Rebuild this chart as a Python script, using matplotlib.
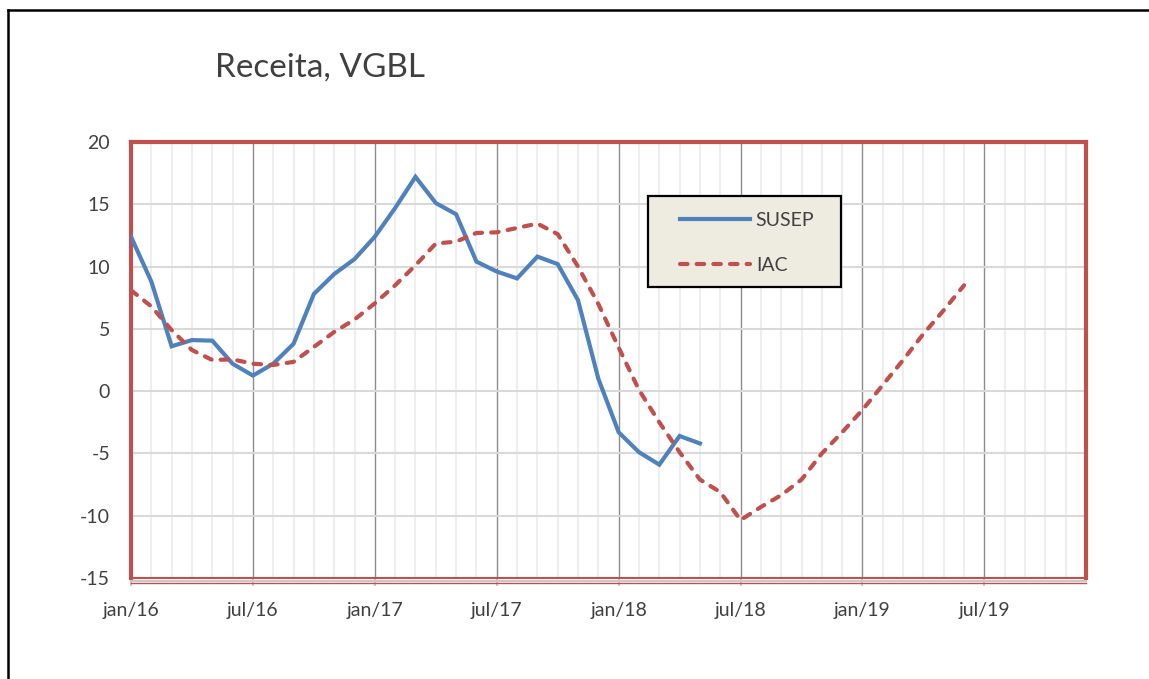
import matplotlib
matplotlib.use("Agg")
import matplotlib.pyplot as plt
from matplotlib.lines import Line2D
from matplotlib.patches import Rectangle
from matplotlib.ticker import MultipleLocator
import numpy as np

plt.rcParams['font.family'] = ['Lato', 'DejaVu Sans']
plt.rcParams['axes.unicode_minus'] = False

# Monthly series starting jan/16
susep = [12.4, 8.8, 3.6, 4.1, 4.05, 2.2, 1.25, 2.2, 3.8, 7.8, 9.4, 10.6,
         12.4, 14.7, 17.2, 15.1, 14.2, 10.4, 9.6, 9.05, 10.8, 10.2, 7.3, 1.0,
         -3.3, -4.9, -5.9, -3.6, -4.2]
iac = [8.1, 6.8, 4.9, 3.3, 2.5, 2.55, 2.2, 2.1, 2.35, 3.55, 4.75, 5.75,
       7.05, 8.5, 10.1, 11.85, 12.0, 12.7, 12.75, 13.1, 13.45, 12.6, 10.0, 7.0,
       3.5, 0.1, -2.5, -4.9, -7.1, -8.1, -10.35, -9.3, -8.35, -7.1, -5.0, -3.3,
       -1.5, 0.5, 2.5, 4.6, 6.5, 8.5]
tick_labels = ["jan/16", "jul/16", "jan/17", "jul/17", "jan/18", "jul/18", "jan/19", "jul/19"]
series_names = ["SUSEP", "IAC"]
title = "Receita, VGBL"

blue = "#4F81BD"
red = "#C0504D"
txt = "#404040"

fig = plt.figure(figsize=(11.49, 6.79), dpi=100)
ax = fig.add_axes([131/1149, 1-578/679, (1086-131)/1149, (578-142)/679])

x_s = np.arange(len(susep))
x_i = np.arange(len(iac))

ax.set_xlim(0, 47)
ax.set_ylim(-15, 20)

# grids
ax.xaxis.set_major_locator(MultipleLocator(6))
ax.xaxis.set_minor_locator(MultipleLocator(1))
ax.yaxis.set_major_locator(MultipleLocator(5))
ax.grid(which='minor', axis='x', color='#EEEEEE', lw=1.5, zorder=0)
ax.grid(which='major', axis='x', color='#8C8C8C', lw=1.0, zorder=1)
ax.grid(which='major', axis='y', color='#D9D9D9', lw=1.5, zorder=1)
ax.set_axisbelow(True)

ax.plot(x_s, susep, color=blue, lw=3.0, solid_joinstyle='miter', zorder=3, label=series_names[0])
ax.plot(x_i, iac, color=red, lw=3.0, dashes=(1.8, 2.2), dash_capstyle='round',
        zorder=3, label=series_names[1])

ax.set_xticks(np.arange(0, 48, 6))
ax.set_xticklabels(tick_labels)
ax.tick_params(axis='x', which='major', length=6, color='#BFBFBF', width=1.2, pad=11,
               labelsize=14, labelcolor=txt)
ax.tick_params(axis='x', which='minor', length=0)
ax.tick_params(axis='y', length=0, pad=15, labelsize=14, labelcolor=txt)

for s in ['left', 'top', 'right']:
    ax.spines[s].set_color(red)
    ax.spines[s].set_linewidth(3.0)
ax.spines['bottom'].set_color(red)
ax.spines['bottom'].set_linewidth(1.5)
# gray axis line just below the red bottom border
ax.add_line(Line2D([0, 1], [-0.006, -0.006], transform=ax.transAxes, color='#C8C8C8',
                   lw=1.5, clip_on=False, zorder=5))
ax.add_line(Line2D([0, 1], [-0.011, -0.011], transform=ax.transAxes, color=red,
                   lw=1.0, clip_on=False, zorder=5))

# legend box (drawn as a rectangle) and legend entries
ax.add_patch(Rectangle(((648-131)/955, 1-(287-142)/436), (841-648)/955, (287-196)/436,
                       transform=ax.transAxes, facecolor='#EEEBE0', edgecolor='#000000',
                       lw=1.6, zorder=6))
leg = ax.legend(loc='upper left', bbox_to_anchor=((680-131)/955, 1-(212-142)/436),
                frameon=False, fontsize=14, handlelength=3.6,
                labelspacing=1.45, borderpad=0, handletextpad=0.3, borderaxespad=0)
leg.set_zorder(7)
for t in leg.get_texts():
    t.set_color(txt)

fig.text(215/1149, 1-68/679, title, fontsize=24, color=txt, ha='left', va='center')

# outer black border (top and left visible)
fig.add_artist(Line2D([8/1149, 1.0], [1-10/679, 1-10/679], transform=fig.transFigure,
                      color='black', lw=1.8))
fig.add_artist(Line2D([8/1149, 8/1149], [0, 1-10/679], transform=fig.transFigure,
                      color='black', lw=1.8))

fig.savefig("out.png", dpi=100)
